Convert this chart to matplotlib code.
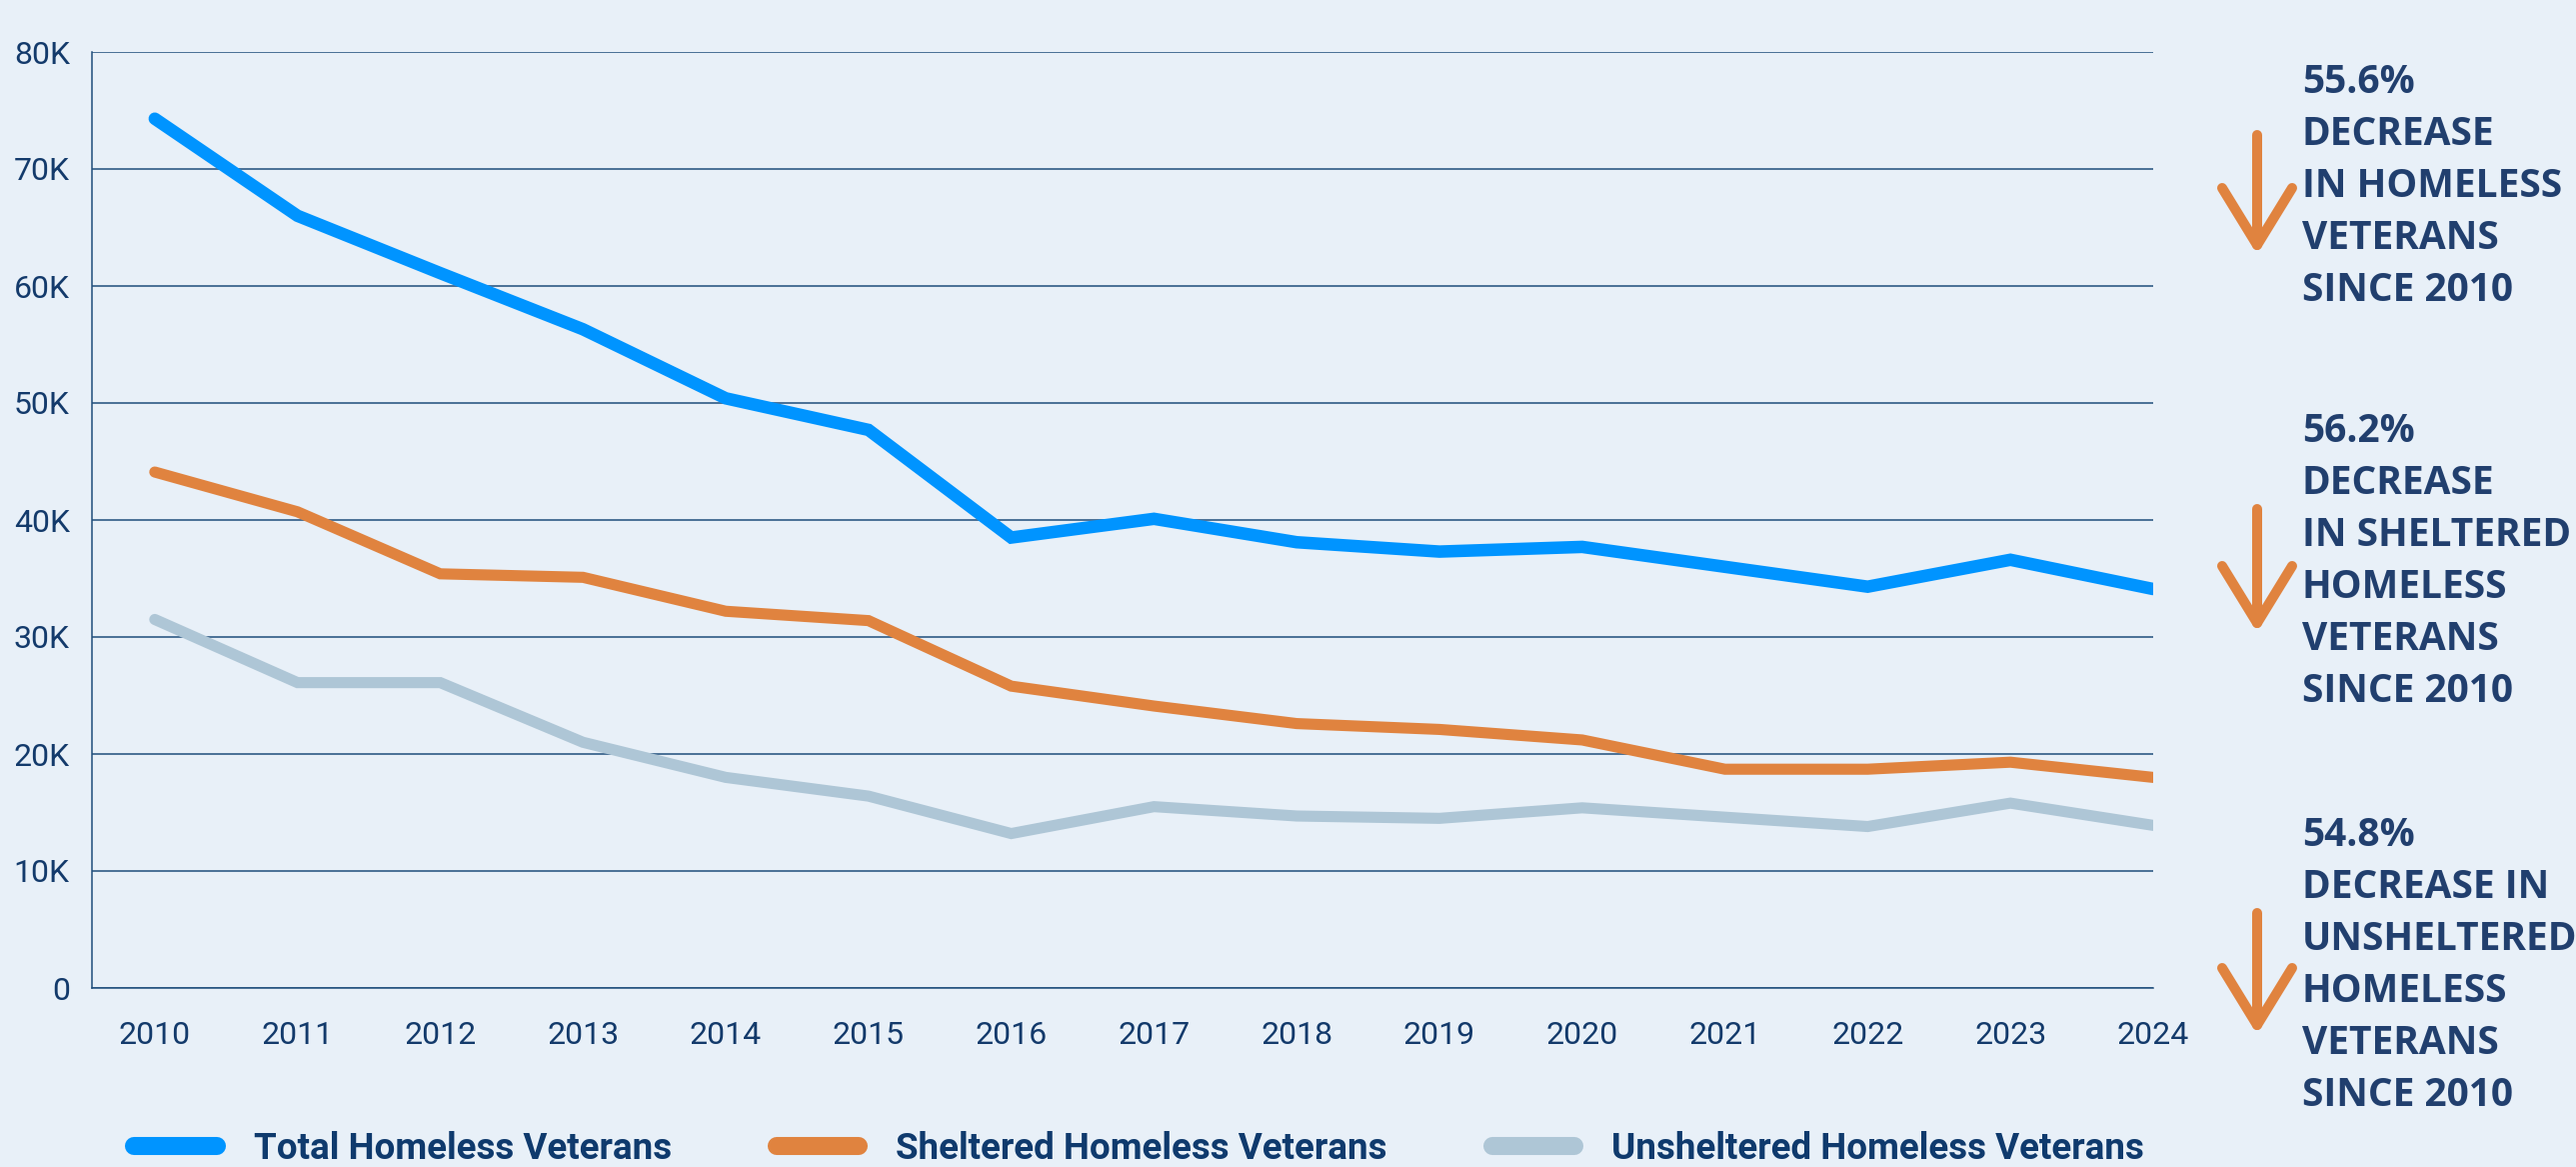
import matplotlib.pyplot as plt
from matplotlib.lines import Line2D
from matplotlib.ticker import FuncFormatter

years = list(range(2010, 2025))
total = [74.3, 66.0, 61.1, 56.3, 50.4, 47.7, 38.5, 40.1, 38.1, 37.3, 37.7, 36.0, 34.3, 36.6, 34.1]
sheltered = [44.1, 40.7, 35.4, 35.1, 32.2, 31.4, 25.8, 24.1, 22.6, 22.1, 21.2, 18.7, 18.7, 19.3, 18.0]
unsheltered = [31.5, 26.1, 26.1, 21.0, 18.0, 16.4, 13.2, 15.5, 14.7, 14.5, 15.4, 14.6, 13.8, 15.8, 13.9]
names = ["Total Homeless Veterans", "Sheltered Homeless Veterans", "Unsheltered Homeless Veterans"]
callouts = [
    "55.6%\nDECREASE\nIN HOMELESS\nVETERANS\nSINCE 2010",
    "56.2%\nDECREASE\nIN SHELTERED\nHOMELESS\nVETERANS\nSINCE 2010",
    "54.8%\nDECREASE IN\nUNSHELTERED\nHOMELESS\nVETERANS\nSINCE 2010",
]

BG = "#e8f0f8"
NAVY = "#133a6b"
TEXT = "#213f6e"
BLUE = "#0094ff"
ORANGE = "#e0833f"
GREY = "#aec6d6"
W, H = 2577, 1167

fig = plt.figure(figsize=(W / 100, H / 100), dpi=100, facecolor=BG)
ax = fig.add_axes([92 / W, 1 - 988 / H, (2154 - 92) / W, (988 - 52) / H])
ax.set_facecolor(BG)

series = [total, sheltered, unsheltered]
colors = [BLUE, ORANGE, GREY]
widths = [9, 8, 8]
for vals, c, lw in zip(series, colors, widths):
    ax.plot(years, [v * 1000 for v in vals], color=c, lw=lw,
            solid_capstyle="round", solid_joinstyle="miter", zorder=3)

ax.set_xlim(2009.56, 2024)
ax.set_ylim(0, 80000)
ax.set_xticks(years)
ax.set_yticks(range(0, 80001, 10000))
ax.yaxis.set_major_formatter(FuncFormatter(lambda v, p: "0" if v == 0 else f"{int(v / 1000)}K"))
ax.grid(axis="y", color="#1f4e7c", lw=1.1)
ax.grid(axis="x", visible=False)
ax.set_axisbelow(True)
for s in ["top", "right"]:
    ax.spines[s].set_visible(False)
for s in ["left", "bottom"]:
    ax.spines[s].set_color("#1f4e7c")
    ax.spines[s].set_linewidth(1.1)

ax.tick_params(axis="both", length=0, colors=NAVY)
ax.tick_params(axis="y", pad=16)
ax.tick_params(axis="x", pad=24)
for lab in ax.get_xticklabels() + ax.get_yticklabels():
    lab.set_fontfamily(["Roboto", "DejaVu Sans"])
    lab.set_fontsize(23)

# legend along the bottom
handles = [Line2D([0], [0], color=c, lw=13, solid_capstyle="round") for c in colors]
leg = fig.legend(handles, names, loc="lower left", bbox_to_anchor=(134 / W, 0.0),
                 ncol=3, frameon=False, handlelength=2.25, handletextpad=1.0,
                 columnspacing=2.85, borderaxespad=0, borderpad=0,
                 prop=dict(family=["Roboto", "DejaVu Sans"], weight="bold", size=26.5))
for t in leg.get_texts():
    t.set_color("#0f3a6d")

# callouts with down arrows on the right
def down_arrow(x, top, tip, wing=35, drop=57):
    kw = dict(color=ORANGE, lw=7.2, solid_capstyle="round", solid_joinstyle="round",
              transform=fig.transFigure)
    fig.add_artist(Line2D([x / W, x / W], [1 - top / H, 1 - tip / H], **kw))
    fig.add_artist(Line2D([(x - wing) / W, x / W, (x + wing) / W],
                          [1 - (tip - drop) / H, 1 - tip / H, 1 - (tip - drop) / H], **kw))

text_tops = [63, 412, 816]
arrows = [(135, 245), (509, 623), (913, 1025)]
for txt, ty, (a0, a1) in zip(callouts, text_tops, arrows):
    fig.text(2303 / W, 1 - ty / H, txt, ha="left", va="top", color=TEXT,
             family=["Open Sans", "DejaVu Sans"], weight="bold", size=28,
             linespacing=1.43)
    down_arrow(2258, a0, a1)

fig.savefig("out.png", dpi=100, facecolor=BG)
